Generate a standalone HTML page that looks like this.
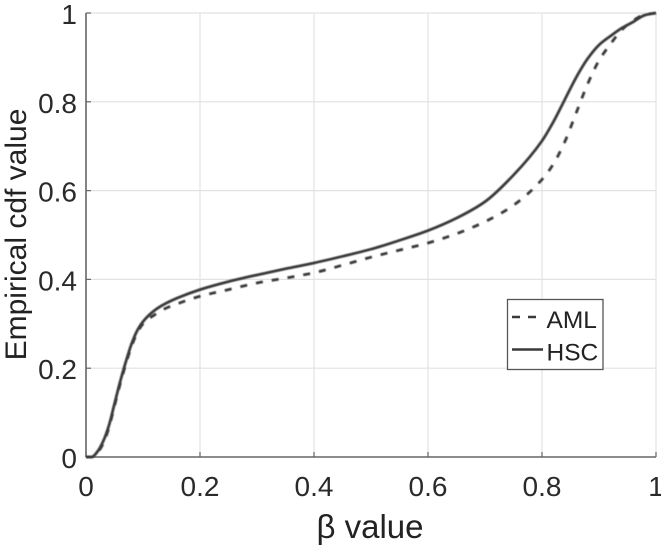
<!DOCTYPE html>
<html>
<head>
<meta charset="utf-8">
<style>
html,body{margin:0;padding:0;background:#fff;width:661px;height:548px;overflow:hidden}
svg{display:block}
text{font-family:"Liberation Sans",sans-serif;fill:#2b2b2b}
</style>
</head>
<body>
<svg id="chart" width="661" height="548" viewBox="0 0 661 548" xmlns="http://www.w3.org/2000/svg">
<defs>
<filter id="soft" x="-5%" y="-5%" width="110%" height="110%"><feGaussianBlur stdDeviation="0.45"/></filter>
<filter id="softText" x="-5%" y="-5%" width="110%" height="110%"><feGaussianBlur stdDeviation="0.3"/></filter>
</defs>
<g id="grid"></g>
<g id="axes"></g>
<g id="series" filter="url(#soft)"></g>
<g id="labels" filter="url(#softText)"></g>
<text x="370" y="538" font-size="33" text-anchor="middle" style="fill:#222" filter="url(#softText)">β value</text>
<text transform="translate(26,234.5) rotate(-90)" font-size="30" text-anchor="middle" style="fill:#222" filter="url(#softText)">Empirical cdf value</text>
<g id="legend">
<rect x="507.5" y="299.5" width="95.5" height="70" fill="#fff" stroke="#555" stroke-width="1.3"></rect>
<line x1="512" y1="317" x2="537" y2="317" stroke="#3a3a3a" stroke-width="2.6" stroke-dasharray="8 8"></line>
<line x1="512" y1="349.5" x2="543" y2="349.5" stroke="#3a3a3a" stroke-width="2.6"></line>
<text x="546.5" y="328" font-size="24.5" style="fill:#222" filter="url(#softText)">AML</text>
<text x="546.5" y="360.5" font-size="24.5" style="fill:#222" filter="url(#softText)">HSC</text>
</g>
</svg>
<script>
const xTicks = [0, 0.2, 0.4, 0.6, 0.8, 1];
const yTicks = [0, 0.2, 0.4, 0.6, 0.8, 1];
const xTickLabels = ['0', '0.2', '0.4', '0.6', '0.8', '1'];
const yTickLabels = ['0', '0.2', '0.4', '0.6', '0.8', '1'];
const betaValues = [0, 0.01, 0.02, 0.03, 0.04, 0.05, 0.06, 0.07, 0.08, 0.09, 0.10, 0.12, 0.14, 0.16, 0.20, 0.25, 0.30, 0.35, 0.40, 0.45, 0.50, 0.55, 0.60, 0.65, 0.70, 0.75, 0.80, 0.82, 0.84, 0.86, 0.88, 0.90, 0.92, 0.94, 0.96, 0.98, 1];
const hscValues = [0, 0, 0.012, 0.035, 0.07, 0.12, 0.17, 0.215, 0.255, 0.285, 0.305, 0.33, 0.346, 0.358, 0.377, 0.395, 0.41, 0.424, 0.437, 0.452, 0.468, 0.488, 0.51, 0.538, 0.575, 0.635, 0.712, 0.755, 0.805, 0.855, 0.897, 0.928, 0.948, 0.966, 0.98, 0.995, 1];
const amlValues = [0, 0, 0.01, 0.03, 0.065, 0.115, 0.165, 0.21, 0.25, 0.28, 0.3, 0.32, 0.335, 0.345, 0.362, 0.377, 0.392, 0.403, 0.415, 0.432, 0.45, 0.466, 0.482, 0.503, 0.53, 0.567, 0.625, 0.66, 0.71, 0.775, 0.84, 0.893, 0.93, 0.962, 0.983, 0.996, 1];

const NS = 'http://www.w3.org/2000/svg';
const plotLeft = 86, plotRight = 656, plotTop = 13, plotBottom = 457;
function xScale(v) { return plotLeft + v * (plotRight - plotLeft); }
function yScale(v) { return plotBottom - v * (plotBottom - plotTop); }
function make(tag, attrs, parent) {
  const el = document.createElementNS(NS, tag);
  for (const k in attrs) el.setAttribute(k, attrs[k]);
  parent.appendChild(el);
  return el;
}
const gridG = document.getElementById('grid');
const axesG = document.getElementById('axes');
const labelsG = document.getElementById('labels');
const seriesG = document.getElementById('series');

xTicks.forEach(function (t, i) {
  const x = xScale(t);
  if (t > 0) {
    const g = make('line', {x1: x, x2: x, y1: plotTop, y2: plotBottom, stroke: '#e2e2e2', 'stroke-width': 1.2}, gridG);
    
    
  }
  const tick = make('line', {x1: x, x2: x, y1: plotBottom, y2: plotBottom - 5, stroke: '#666', 'stroke-width': 1.2}, axesG);
  
  
  const lab = make('text', {x: x, y: 496, 'font-size': 28, 'text-anchor': 'middle'}, labelsG);
  
  
  lab.textContent = xTickLabels[i];
});
yTicks.forEach(function (t, i) {
  const y = yScale(t);
  if (t > 0) {
    const g = make('line', {x1: plotLeft, x2: plotRight, y1: y, y2: y, stroke: '#e2e2e2', 'stroke-width': 1.2}, gridG);
    
    
  }
  const tick = make('line', {x1: plotLeft, x2: plotLeft + 5, y1: y, y2: y, stroke: '#666', 'stroke-width': 1.2}, axesG);
  
  
  const lab = make('text', {x: 77, y: y + 11, 'font-size': 28, 'text-anchor': 'end'}, labelsG);
  
  
  lab.textContent = yTickLabels[i];
});
const xAxis = make('line', {x1: plotLeft, x2: plotRight, y1: plotBottom, y2: plotBottom, stroke: '#666', 'stroke-width': 1.6}, axesG);


const yAxis = make('line', {x1: plotLeft, x2: plotLeft, y1: plotTop, y2: plotBottom, stroke: '#666', 'stroke-width': 1.6}, axesG);



// Monotone cubic path through the data points, so the curves are smooth between readings.
function pathFor(values) {
  const n = values.length;
  const px = betaValues.map(xScale);
  const py = values.map(yScale);
  const slopes = [];
  for (let i = 0; i < n - 1; i++) slopes.push((py[i + 1] - py[i]) / (px[i + 1] - px[i]));
  const tangents = [slopes[0]];
  for (let i = 1; i < n - 1; i++) {
    const a = slopes[i - 1], b = slopes[i];
    if (a * b <= 0) {
      tangents.push(0);
    } else {
      const ha = px[i] - px[i - 1], hb = px[i + 1] - px[i];
      tangents.push(3 * (ha + hb) / ((2 * hb + ha) / a + (hb + 2 * ha) / b));
    }
  }
  tangents.push(slopes[n - 2]);
  let d = 'M' + px[0].toFixed(2) + ' ' + py[0].toFixed(2);
  for (let i = 0; i < n - 1; i++) {
    const h = (px[i + 1] - px[i]) / 3;
    d += ' C' + (px[i] + h).toFixed(2) + ' ' + (py[i] + tangents[i] * h).toFixed(2) +
         ' ' + (px[i + 1] - h).toFixed(2) + ' ' + (py[i + 1] - tangents[i + 1] * h).toFixed(2) +
         ' ' + px[i + 1].toFixed(2) + ' ' + py[i + 1].toFixed(2);
  }
  return d;
}
const amlLine = make('path', {d: pathFor(amlValues), fill: 'none', stroke: '#3a3a3a', 'stroke-width': 2.8, 'stroke-dasharray': '7 9'}, seriesG);


const hscLine = make('path', {d: pathFor(hscValues), fill: 'none', stroke: '#3a3a3a', 'stroke-width': 2.8}, seriesG);


</script>
</body>
</html>
